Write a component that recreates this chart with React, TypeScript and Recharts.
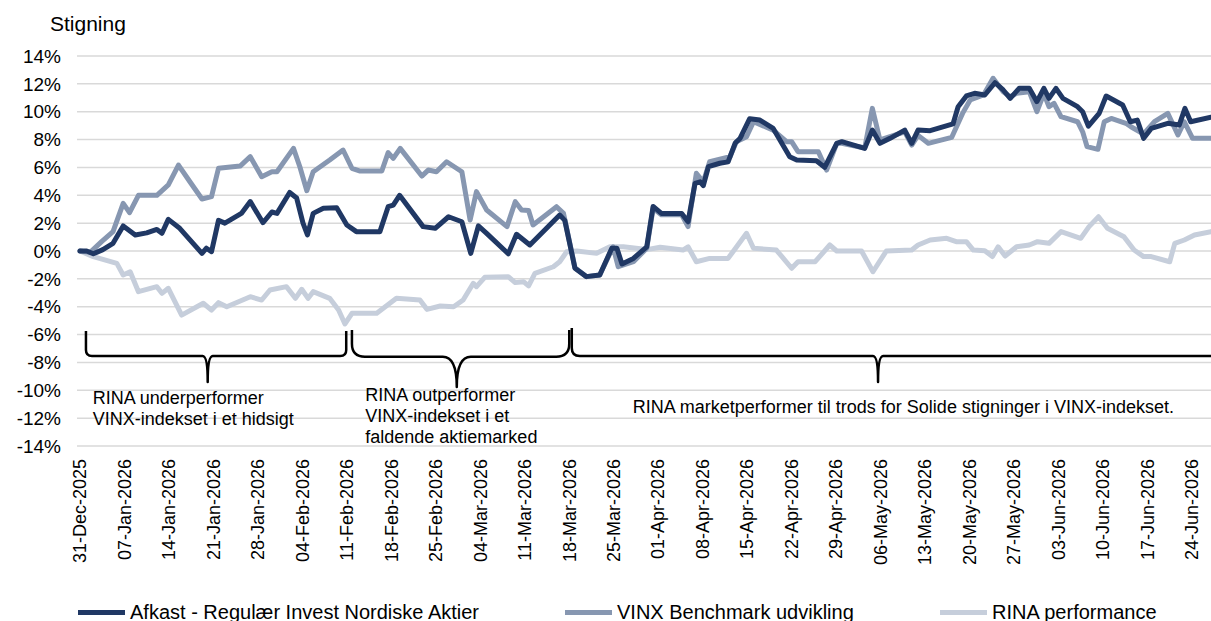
import React from 'react';
import { LineChart, Line, XAxis, YAxis, CartesianGrid } from 'recharts';

// x values are calendar days counted from 31-Dec-2025
const tickDays = [0, 7, 14, 21, 28, 35, 42, 49, 56, 63, 70, 77, 84, 91, 98, 105, 112, 119, 126, 133, 140, 147, 154, 161, 168, 175];
const tickLabels = [
  '31-Dec-2025', '07-Jan-2026', '14-Jan-2026', '21-Jan-2026', '28-Jan-2026', '04-Feb-2026',
  '11-Feb-2026', '18-Feb-2026', '25-Feb-2026', '04-Mar-2026', '11-Mar-2026', '18-Mar-2026',
  '25-Mar-2026', '01-Apr-2026', '08-Apr-2026', '15-Apr-2026', '22-Apr-2026', '29-Apr-2026',
  '06-May-2026', '13-May-2026', '20-May-2026', '27-May-2026', '03-Jun-2026', '10-Jun-2026',
  '17-Jun-2026', '24-Jun-2026',
];
const yTicks = [-14, -12, -10, -8, -6, -4, -2, 0, 2, 4, 6, 8, 10, 12, 14];

const afkastDays = [
  0, 1.05, 2.1, 3.6, 5.2, 6.8, 8.7, 10.5, 12.1, 12.9, 13.9, 15.7, 19.2, 19.9, 20.7, 21.8, 22.8, 25.4, 26.8, 28.8,
  30.2, 31.0, 33.0, 34.1, 35.1, 35.8, 36.7, 38.3, 40.4, 42.0, 43.5, 47.2, 48.5, 49.3, 50.3, 54.0, 55.9, 58.0, 60.1,
  61.5, 62.7, 64.0, 67.4, 68.7, 70.8, 75.5, 76.3, 77.9, 79.7, 81.8, 83.7, 84.5, 85.3, 87.1, 89.2, 90.2, 91.5, 94.7,
  95.7, 96.8, 97.6, 98.1, 98.9, 100.7, 102.0, 103.1, 103.9, 105.4, 107.0, 109.1, 111.7, 112.8, 115.9, 117.2, 119.1,
  119.9, 123.5, 124.7, 125.9, 127.5, 129.8, 130.9, 131.9, 133.8, 137.4, 138.2, 139.5, 140.8, 142.4, 144.0, 145.3,
  146.4, 147.8, 149.4, 150.6, 151.7, 152.5, 153.6, 154.7, 157.0, 157.8, 158.7, 160.4, 161.5, 164.1, 165.3, 166.4,
  167.4, 168.6, 171.2, 173.0, 173.9, 174.8, 178.0,
];
const afkastValues = [
  0, 0, -0.2, 0.1, 0.55, 1.8, 1.15, 1.3, 1.55, 1.27, 2.27, 1.63, -0.17, 0.2, -0.05, 2.2, 2.0, 2.7, 3.55, 2.03,
  2.8, 2.7, 4.2, 3.8, 2.0, 1.15, 2.7, 3.07, 3.1, 1.87, 1.39, 1.39, 3.18, 3.3, 4.0, 1.75, 1.63, 2.46, 2.1,
  -0.17, 1.8, 1.27, -0.2, 1.2, 0.43, 2.58, 2.2, -1.24, -1.84, -1.72, 0.2, 0.2, -0.93, -0.53, 0.3, 3.2, 2.7, 2.7,
  2.1, 4.86, 4.97, 4.7, 6.05, 6.3, 6.4, 7.73, 8.1, 9.5, 9.4, 8.8, 6.77, 6.53, 6.48, 6.0, 7.73,
  7.85, 7.37, 8.68, 7.73, 8.09, 8.68, 7.73, 8.68, 8.64, 9.12, 10.36, 11.13, 11.32, 11.2, 12.08, 11.56,
  10.96, 11.68, 11.68, 10.72, 11.68, 10.96, 11.68, 10.96, 10.36, 10.0, 8.97, 9.88, 11.13, 10.48, 9.28, 9.4,
  8.09, 8.8, 9.17, 9.04, 10.24, 9.28, 9.6,
];

const vinxDays = [
  0, 1.6, 3.4, 5.2, 6.8, 7.8, 9.2, 12.1, 13.9, 15.5, 17.3, 19.2, 20.7, 21.8, 25.2, 26.8, 28.6, 30.2, 31.0, 33.6,
  34.6, 35.7, 36.7, 39.3, 41.4, 42.8, 44.1, 47.5, 48.5, 49.3, 50.4, 53.8, 54.8, 56.1, 57.7, 60.1, 61.4, 62.4, 64.0,
  67.2, 68.5, 69.5, 70.6, 71.3, 75.0, 76.1, 77.9, 79.7, 81.8, 83.9, 84.7, 87.1, 89.2, 90.2, 91.5, 94.7, 95.7, 97.0,
  98.1, 99.1, 102.3, 103.3, 104.9, 106.0, 109.1, 111.2, 112.0, 113.0, 116.2, 117.5, 119.1, 119.9, 123.5, 124.7,
  125.9, 129.8, 130.9, 131.9, 133.5, 137.2, 138.9, 140.1, 142.2, 143.7, 145.3, 146.4, 147.4, 149.4, 150.6, 151.7,
  152.5, 153.3, 154.4, 157.0, 157.8, 158.5, 160.2, 161.2, 162.3, 164.6, 165.4, 167.4, 169.1, 171.2, 172.8, 173.8,
  175.1, 178.0,
];
const vinxValues = [
  0, -0.1, 0.67, 1.39, 3.42, 2.75, 4.0, 4.0, 4.74, 6.17, 4.97, 3.73, 3.9, 5.94, 6.1, 6.77, 5.33, 5.69, 5.69, 7.37,
  6.05, 4.33, 5.69, 6.53, 7.25, 5.94, 5.74, 5.74, 7.06, 6.65, 7.37, 5.38, 5.81, 5.69, 6.41, 5.69, 2.22, 4.26, 2.94,
  1.75, 3.54, 2.94, 2.9, 1.87, 3.18, 2.7, -1.2, -1.84, -1.72, 0.3, -1.13, -0.77, 0.2, 3.07, 2.6, 2.6, 1.75, 5.58,
  4.97, 6.41, 6.77, 7.85, 8.2, 9.28, 8.68, 7.85, 7.85, 7.13, 7.13, 5.81, 7.73, 7.73, 7.4, 10.24,
  7.97, 8.56, 7.6, 8.3, 7.73, 8.16, 9.88, 10.84, 11.2, 12.4, 11.44, 11.08, 11.32, 11.44, 10.0, 11.3,
  10.36, 10.6, 9.64, 9.28, 8.56, 7.49, 7.3, 9.28, 9.52, 9.17, 8.92, 8.4, 9.28, 9.88, 8.33, 9.28,
  8.09, 8.09,
];

const rinaDays = [
  0, 2.1, 5.8, 6.8, 7.9, 9.2, 12.1, 12.9, 13.9, 16.0, 19.4, 20.7, 21.8, 23.1, 26.8, 28.6, 29.9, 32.5, 33.9, 34.9,
  35.9, 36.7, 39.3, 40.7, 41.7, 42.8, 46.7, 49.8, 53.5, 54.6, 56.7, 58.8, 60.3, 61.9, 62.4, 63.7, 67.4, 68.5, 69.8,
  70.6, 71.6, 74.5, 75.5, 76.6, 78.2, 81.3, 83.4, 85.5, 89.2, 91.3, 94.9, 95.7, 97.0, 99.1, 102.0, 104.9, 106.0,
  109.6, 112.0, 113.0, 115.7, 118.0, 119.1, 123.0, 124.8, 126.9, 130.9, 131.9, 133.8, 136.4, 137.9, 139.5, 140.6,
  142.4, 143.6, 144.5, 145.6, 147.4, 149.4, 150.7, 152.5, 154.4, 157.5, 158.8, 160.3, 161.7, 164.3, 165.9, 167.4,
  168.6, 171.5, 172.3, 173.8, 175.4, 178.0,
];
const rinaValues = [
  0, -0.4, -0.89, -1.72, -1.49, -2.92, -2.56, -3.04, -2.68, -4.6, -3.75, -4.24, -3.71, -4.0, -3.28, -3.52, -2.8, -2.56, -3.4, -2.75,
  -3.4, -2.92, -3.4, -4.24, -5.24, -4.47, -4.47, -3.4, -3.52, -4.19, -3.95, -4.0, -3.52, -2.32, -2.56, -1.89, -1.84, -2.27, -2.2,
  -2.51, -1.6, -1.13, -0.77, -0.05, 0, -0.17, 0.3, 0.3, 0.1, 0.27, 0.07, 0.3, -0.77, -0.53, -0.53, 1.27, 0.2,
  0.07, -1.24, -0.77, -0.77, 0.43, 0, 0, -1.49, 0, 0.07, 0.43, 0.79, 0.91, 0.67, 0.67, 0.07,
  0.02, -0.4, 0.3, -0.36, 0.3, 0.43, 0.67, 0.55, 1.39, 0.91, 1.75, 2.46, 1.63, 1.03, 0.07, -0.4,
  -0.4, -0.77, 0.55, 0.79, 1.15, 1.39,
];

const toRows = (days: number[], values: number[]) => days.map((day, i) => ({ day, value: values[i] }));
const afkastData = toRows(afkastDays, afkastValues);
const vinxData = toRows(vinxDays, vinxValues);
const rinaData = toRows(rinaDays, rinaValues);

const NAVY = '#203864';
const STEEL = '#8797b1';
const PALE = '#c6cedb';
const FONT = '"Liberation Sans", Arial, sans-serif';

// chart geometry
const W = 1211;
const H = 621;
const PLOT_LEFT = 77;
const PLOT_TOP = 56;
const PLOT_BOTTOM = 446;
const X_MIN = -0.47;
const X_MAX = 178;

const sx = (d: number) => PLOT_LEFT + ((d - X_MIN) * (W - PLOT_LEFT)) / (X_MAX - X_MIN);
const sy = (v: number) => PLOT_TOP + ((14 - v) * (PLOT_BOTTOM - PLOT_TOP)) / 28;

// annotation braces in chart units (days, %)
const braces = [
  { from: 0.94, to: 41.9, tip: 20.1, top: -5.74, mid: -7.54, low: -9.4, rEnd: 6, rTip: 5, hookRight: true },
  { from: 42.8, to: 77.0, tip: 59.3, top: -5.67, mid: -7.6, low: -9.76, rEnd: 13, rTip: 14, hookRight: true },
  { from: 77.4, to: 178, tip: 125.6, top: -5.53, mid: -7.54, low: -9.4, rEnd: 8, rTip: 5, hookRight: false },
];

const notes = [
  { day: 2.0, lines: ['RINA underperformer', 'VINX-indekset i et hidsigt'], first: -10.55 },
  { day: 44.9, lines: ['RINA outperformer', 'VINX-indekset i et', 'faldende aktiemarked'], first: -10.34 },
  { day: 87.0, lines: ['RINA marketperformer til trods for Solide stigninger i VINX-indekset.'], first: -11.2 },
];

const bracePath = (b: typeof braces[number]) => {
  const x1 = sx(b.from);
  const x2 = sx(b.to);
  const xc = sx(b.tip);
  const yt = sy(b.top);
  const ym = sy(b.mid);
  const yl = sy(b.low);
  let d = `M ${x1} ${yt} L ${x1} ${ym - b.rEnd} Q ${x1} ${ym} ${x1 + b.rEnd} ${ym}`;
  d += ` L ${xc - b.rTip} ${ym} Q ${xc} ${ym} ${xc} ${yl} Q ${xc} ${ym} ${xc + b.rTip} ${ym}`;
  if (b.hookRight) {
    d += ` L ${x2 - b.rEnd} ${ym} Q ${x2} ${ym} ${x2} ${ym - b.rEnd} L ${x2} ${yt}`;
  } else {
    d += ` L ${x2} ${ym}`;
  }
  return d;
};

const DateTick = (props: any) => {
  const { x, y, payload } = props;
  const idx = tickDays.indexOf(payload.value);
  return (
    <text
      x={x}
      y={y}
      transform={`rotate(-90, ${x}, ${y})`}
      textAnchor="end"
      dy="0.35em"
      fontSize={18}
      fill="#000"
      fontFamily={FONT}
    >
      {idx >= 0 ? tickLabels[idx] : ''}
    </text>
  );
};

const legendItems = [
  { name: 'Afkast - Regulær Invest Nordiske Aktier', color: NAVY, left: 78 },
  { name: 'VINX Benchmark udvikling', color: STEEL, left: 565 },
  { name: 'RINA performance', color: PALE, left: 940 },
];

const App = () => {
  return (
    <div style={{ position: 'absolute', left: 0, top: 0, width: W, height: H, background: '#fff', overflow: 'hidden', fontFamily: FONT }}>
      <div style={{ position: 'absolute', left: 50, top: 11, fontSize: 21, lineHeight: '26px', color: '#000' }}>Stigning</div>
      <LineChart width={W} height={H} margin={{ top: PLOT_TOP, right: 0, bottom: 0, left: 0 }} style={{ fontFamily: FONT }}>
        <CartesianGrid vertical={false} stroke="#d9d9d9" strokeWidth={1.5} />
        <XAxis
          dataKey="day"
          type="number"
          domain={[X_MIN, X_MAX]}
          ticks={tickDays}
          tick={<DateTick />}
          tickLine={false}
          axisLine={false}
          tickSize={0}
          tickMargin={13}
          height={H - PLOT_BOTTOM}
          interval={0}
          allowDataOverflow
        />
        <YAxis
          type="number"
          domain={[-14, 14]}
          ticks={yTicks}
          tickFormatter={(v: number) => `${v}%`}
          tick={{ fontSize: 19, fill: '#000', fontFamily: FONT }}
          tickLine={false}
          axisLine={false}
          tickSize={0}
          tickMargin={16}
          width={PLOT_LEFT}
          interval={0}
        />
        <Line data={rinaData} dataKey="value" name="RINA performance" type="linear" stroke={PALE} strokeWidth={5} dot={false} strokeLinejoin="round" strokeLinecap="round" isAnimationActive={false} />
        <Line data={vinxData} dataKey="value" name="VINX Benchmark udvikling" type="linear" stroke={STEEL} strokeWidth={5} dot={false} strokeLinejoin="round" strokeLinecap="round" isAnimationActive={false} />
        <Line data={afkastData} dataKey="value" name="Afkast - Regulær Invest Nordiske Aktier" type="linear" stroke={NAVY} strokeWidth={5} dot={false} strokeLinejoin="round" strokeLinecap="round" isAnimationActive={false} />
      </LineChart>
      <svg width={W} height={H} style={{ position: 'absolute', left: 0, top: 0, pointerEvents: 'none' }}>
        {braces.map((b, i) => (
          <path key={i} d={bracePath(b)} fill="none" stroke="#000" strokeWidth={2.5} strokeLinejoin="round" />
        ))}
        {notes.map((n, i) => (
          <text key={i} x={sx(n.day)} y={sy(n.first)} fontSize={18} fontFamily={FONT} fill="#000">
            {n.lines.map((line, j) => (
              <tspan key={j} x={sx(n.day)} dy={j === 0 ? '0.35em' : '1.17em'}>{line}</tspan>
            ))}
          </text>
        ))}
      </svg>
      {legendItems.map((item) => (
        <div key={item.name} style={{ position: 'absolute', left: item.left, top: 600, height: 24, display: 'flex', alignItems: 'center', fontSize: 20, color: '#000', whiteSpace: 'nowrap' }}>
          <span style={{ display: 'inline-block', width: 47, height: 5, background: item.color, marginRight: 5 }} />
          {item.name}
        </div>
      ))}
    </div>
  );
};

export default App;
